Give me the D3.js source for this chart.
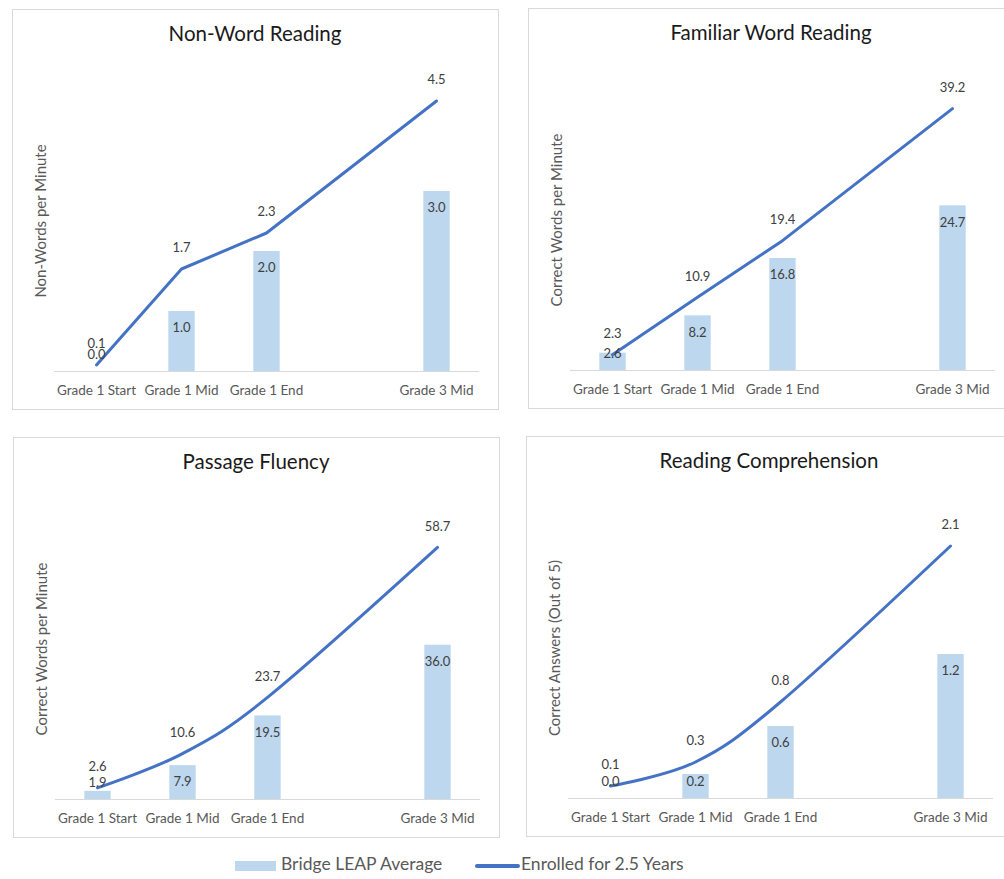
<!DOCTYPE html>
<html><head><meta charset="utf-8">
<script src="https://cdn.jsdelivr.net/npm/d3@7"></script>
<style>
html,body{margin:0;padding:0;background:#fff;}
svg{display:block;font-family:Lato, "Open Sans", sans-serif;}
</style></head>
<body><svg id="c" width="1004" height="879"></svg>
<script>
const categories = ["Grade 1 Start","Grade 1 Mid","Grade 1 End","","Grade 3 Mid"];
const titles = ["Non-Word Reading","Familiar Word Reading","Passage Fluency","Reading Comprehension"];
const yTitles = ["Non-Words per Minute","Correct Words per Minute","Correct Words per Minute","Correct Answers (Out of 5)"];
const yMax = [5, 45, 70, 2.5];
const smoothed = [false, false, true, true];
const barNonWord = [0.0, 1.0, 2.0, null, 3.0];
const lineNonWord = [0.1, 1.7, 2.3, null, 4.5];
const barFamiliar = [2.6, 8.2, 16.8, null, 24.7];
const lineFamiliar = [2.3, 10.9, 19.4, null, 39.2];
const barPassage = [1.9, 7.9, 19.5, null, 36.0];
const linePassage = [2.6, 10.6, 23.7, null, 58.7];
const barCompr = [0.0, 0.2, 0.6, null, 1.2];
const lineCompr = [0.1, 0.3, 0.8, null, 2.1];
const seriesNames = ["Bridge LEAP Average","Enrolled for 2.5 Years"];

const bars = [barNonWord, barFamiliar, barPassage, barCompr];
const lines = [lineNonWord, lineFamiliar, linePassage, lineCompr];
const origins = [[12,9],[528,8],[13,437],[526,436]];

const BAR = "#BDD7EE", LINE = "#4472C4";
const svg = d3.select("#c");
const PW = 486, PH = 400, PL = 42, PWID = 425, BASE = 362, PHGT = 300;

for (let i = 0; i < 4; i++) {
  const g = svg.append("g").attr("transform", `translate(${origins[i][0]},${origins[i][1]})`);
  g.append("rect").attr("x",0.5).attr("y",0.5).attr("width",PW).attr("height",PH)
    .attr("fill","#fff").attr("stroke","#D9D9D9");
  g.append("text").attr("x",PW/2).attr("y",27).attr("text-anchor","middle")
    .attr("dominant-baseline","middle").attr("font-size",20.5).attr("fill","#1a1a1a").text(titles[i]);
  const x = d3.scaleBand().domain(categories).range([PL, PL+PWID]).paddingInner(0.69).paddingOuter(0.345);
  const y = d3.scaleLinear().domain([0, yMax[i]]).range([BASE, BASE-PHGT]);
  const cx = c => x(c) + x.bandwidth()/2;
  // axis
  const xa = d3.axisBottom(x).tickSize(0).tickPadding(0);
  const ax = g.append("g").attr("transform",`translate(0,${BASE})`).call(xa);
  ax.select(".domain").attr("d", `M${PL},0.5H${PL+PWID}`).attr("stroke","#D9D9D9");
  ax.selectAll("text").attr("y",19).attr("dy","0.35em").attr("font-size",13.5)
    .attr("fill","#595959").attr("font-family","Lato, sans-serif");
  // y title
  g.append("text").attr("transform",`translate(30,${BASE-PHGT/2}) rotate(-90)`)
    .attr("text-anchor","middle").attr("dominant-baseline","middle")
    .attr("font-size",15).attr("fill","#595959").text(yTitles[i]);
  const bd = categories.map((c,k)=>({c, v: bars[i][k]})).filter(d=>d.v!==null);
  const ld = categories.map((c,k)=>({c, v: lines[i][k]})).filter(d=>d.v!==null);
  g.selectAll(".bar").data(bd).enter().append("rect")
    .attr("x", d=>x(d.c)).attr("width", x.bandwidth())
    .attr("y", d=>y(d.v)).attr("height", d=>y(0)-y(d.v)).attr("fill", BAR);
  const lg = d3.line().x(d=>cx(d.c)).y(d=>y(d.v))
    .curve(smoothed[i] ? d3.curveCatmullRom.alpha(0) : d3.curveLinear);
  g.append("path").datum(ld).attr("d", lg).attr("fill","none").attr("stroke",LINE)
    .attr("stroke-width",3).attr("stroke-linejoin","round").attr("stroke-linecap","round");
  g.selectAll(".bl").data(bd).enter().append("text")
    .attr("x", d=>cx(d.c)).attr("y", d=>Math.min(y(d.v)+18, y(0)-15))
    .attr("text-anchor","middle").attr("dominant-baseline","middle")
    .attr("font-size",13).attr("fill","#404040").text(d=>d.v.toFixed(1));
  g.selectAll(".ll").data(ld).enter().append("text")
    .attr("x", d=>cx(d.c)).attr("y", d=>y(d.v)-20)
    .attr("text-anchor","middle").attr("dominant-baseline","middle")
    .attr("font-size",13).attr("fill","#404040").text(d=>d.v.toFixed(1));
}
// legend
const leg = svg.append("g");
leg.append("rect").attr("x",235).attr("y",861).attr("width",41).attr("height",10).attr("fill",BAR);
leg.append("text").attr("x",281).attr("y",866).attr("dominant-baseline","middle")
  .attr("font-size",17.5).attr("fill","#595959").text(seriesNames[0]);
leg.append("line").attr("x1",477).attr("x2",518).attr("y1",866).attr("y2",866)
  .attr("stroke",LINE).attr("stroke-width",4).attr("stroke-linecap","round");
leg.append("text").attr("x",521).attr("y",866).attr("dominant-baseline","middle")
  .attr("font-size",17.5).attr("fill","#595959").text(seriesNames[1]);
</script></body></html>
